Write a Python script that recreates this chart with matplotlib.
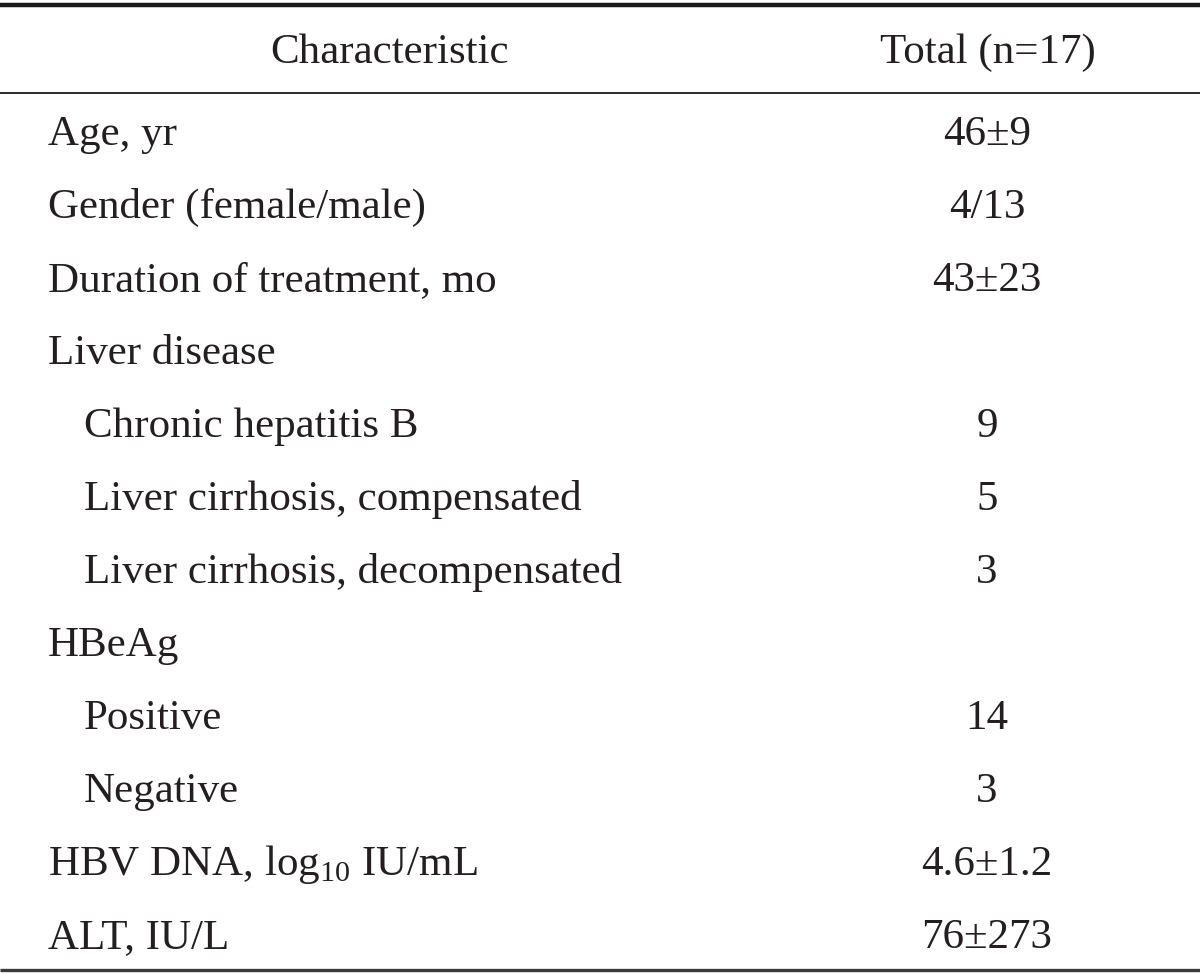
import matplotlib as mpl
import matplotlib.pyplot as plt

mpl.rcParams['font.family'] = ['Liberation Serif', 'DejaVu Serif']
mpl.rcParams['mathtext.fontset'] = 'custom'
mpl.rcParams['mathtext.rm'] = 'Liberation Serif'

header = ['Characteristic', 'Total (n=17)']
labels = ['Age, yr', 'Gender (female/male)', 'Duration of treatment, mo',
          'Liver disease', 'Chronic hepatitis B', 'Liver cirrhosis, compensated',
          'Liver cirrhosis, decompensated', 'HBeAg', 'Positive', 'Negative',
          r'HBV DNA, log$_{\rm 10}$ IU/mL', 'ALT, IU/L']
indent = [0, 0, 0, 0, 1, 1, 1, 0, 1, 1, 0, 0]
values = ['46±9', '4/13', '43±23', '', '9', '5', '3', '', '14', '3',
          '4.6±1.2', '76±273']

txt = '#231f20'
fs = 31

fig = plt.figure(figsize=(12, 9.74), dpi=100)
ax = fig.add_axes([0, 0, 1, 1])
ax.set_xlim(0, 1200)
ax.set_ylim(974, 0)
ax.axis('off')

# rules
ax.plot([0, 1200], [5, 5], color='#1a1a1a', lw=3.2, solid_capstyle='butt')
ax.plot([0, 1200], [93, 93], color='#2a2a2a', lw=1.4, solid_capstyle='butt')
ax.plot([0, 1200], [970, 970], color='#3a3a3a', lw=2.4, solid_capstyle='butt')

ax.text(390, 63, header[0], fontsize=fs, color=txt, ha='center', va='baseline')
ax.text(988, 63, header[1], fontsize=fs, color=txt, ha='center', va='baseline')

y0, dy = 145, 73
for i, (lab, ind, val) in enumerate(zip(labels, indent, values)):
    y = y0 + i * dy
    ax.text(48 + 36 * ind, y, lab, fontsize=fs, color=txt, ha='left', va='baseline')
    if val:
        ax.text(987, y, val, fontsize=fs, color=txt, ha='center', va='baseline')

fig.savefig('out.png', dpi=100)
